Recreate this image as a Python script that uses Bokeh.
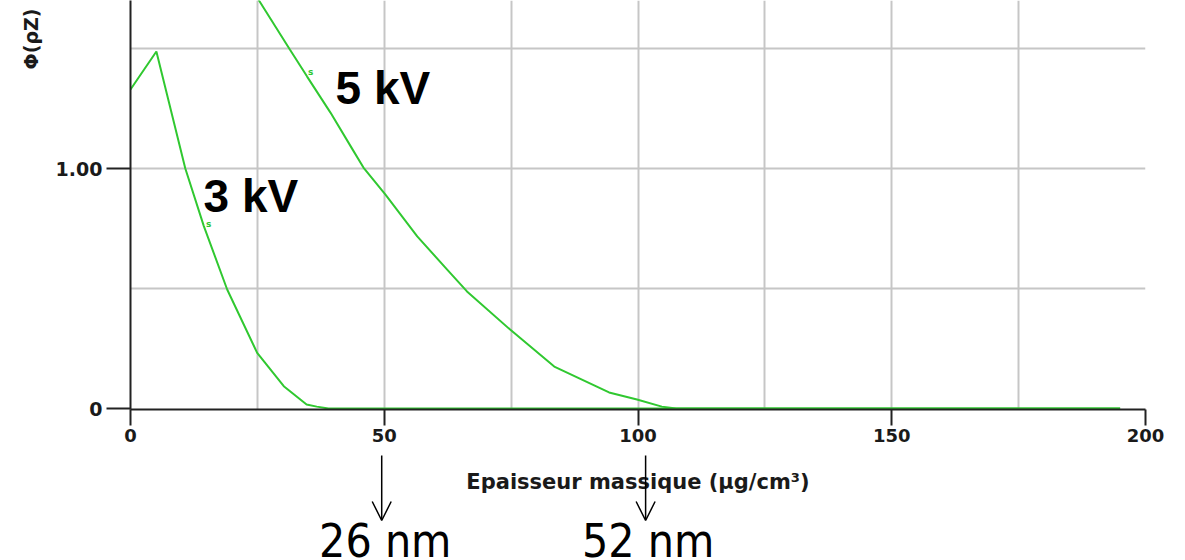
from bokeh.plotting import figure
from bokeh.layouts import column
from bokeh.models import (Range1d, FixedTicker, Label, Arrow, OpenHead, Title)
from bokeh.core.properties import value
from bokeh.embed import file_html
from bokeh.resources import INLINE

# ---- data ----
x_3kv = [0, 5.1, 10.8, 14.45, 19.05, 24.96, 30.2, 34.7, 36.7, 39.0, 195]
y_3kv = [1.329, 1.4875, 1.0, 0.76, 0.496, 0.232, 0.093, 0.017, 0.008, 0.0, 0.0]

x_5kv = [24.5, 25.2, 31.4, 34.8, 39.4, 43.6, 45.9, 50.2, 56.5, 62.4, 66.3, 74.8,
         83.5, 94.3, 99.8, 104.7, 107.5, 195]
y_5kv = [1.73, 1.704, 1.496, 1.383, 1.233, 1.085, 1.004, 0.892, 0.717, 0.579, 0.488,
         0.329, 0.175, 0.067, 0.0375, 0.008, 0.0, 0.0]

x_ticks = [0, 50, 100, 150, 200]
y_ticks = [0, 1]
y_tick_labels = {0: "0", 1: "1.00"}
x_grid = [25, 50, 75, 100, 125, 150, 175]
y_grid = [0.5, 1.0, 1.5]

curve_names = ["3 kV", "5 kV"]
curve_label_pos = [(14.4, 0.8835), (40.4, 1.3375)]
curve_marker_pos = [(15.4, 0.767), (35.5, 1.404)]

x_title = "Epaisseur massique (µg/cm³)"
y_title = "Φ(ρZ)"
depth_labels = ["26 nm", "52 nm"]
depth_arrow_x = [49.5, 101.5]
depth_label_x = [50.2, 102.0]

GREEN = "#30c830"
FONT = "Liberation Sans"
NARROW = "'Liberation Sans Narrow', 'Arial Narrow', 'DejaVu Sans Condensed', 'Liberation Sans'"
INK = "#1a1a1a"

x_range = Range1d(0, 200)

# ---------------- main chart ----------------
p = figure(width=1185, height=452, output_backend="svg", toolbar_location=None,
           x_range=x_range, y_range=Range1d(-0.004, 1.70),
           min_border_left=130, min_border_right=40, min_border_top=0,
           min_border_bottom=43)
p.outline_line_color = None

p.xgrid.ticker = FixedTicker(ticks=x_grid)
p.ygrid.ticker = FixedTicker(ticks=y_grid)
for g in (p.xgrid, p.ygrid):
    g.grid_line_color = "#c6c6c6"
    g.grid_line_width = 2

xa = p.xaxis[0]
xa.ticker = FixedTicker(ticks=x_ticks)
xa.axis_line_color = "#222222"
xa.axis_line_width = 2
xa.major_tick_line_color = "#222222"
xa.major_tick_line_width = 2
xa.major_tick_out = 16
xa.major_tick_in = 0
xa.minor_tick_line_color = None
xa.major_label_text_font = "DejaVu Sans"
xa.major_label_text_font_style = "bold"
xa.major_label_text_font_size = "18px"
xa.major_label_text_color = INK
xa.major_label_standoff = 3

ya = p.yaxis[0]
ya.ticker = FixedTicker(ticks=y_ticks)
ya.major_label_overrides = y_tick_labels
ya.axis_line_color = "#222222"
ya.axis_line_width = 2
ya.major_tick_line_color = "#222222"
ya.major_tick_line_width = 2
ya.major_tick_out = 24
ya.major_tick_in = 0
ya.minor_tick_line_color = None
ya.major_label_text_font = "DejaVu Sans"
ya.major_label_text_font_style = "bold"
ya.major_label_text_font_size = "19px"
ya.major_label_text_color = INK
ya.major_label_standoff = 4

# y-axis title at the top of the left side
p.add_layout(Title(text=y_title, align="right", text_font="DejaVu Sans",
                   text_font_style="bold", text_font_size="19px",
                   text_color=INK, offset=8, standoff=21), "left")

p.line(x_3kv, y_3kv, line_color=GREEN, line_width=2)
p.line(x_5kv, y_5kv, line_color=GREEN, line_width=2)

p.text(x=[m[0] for m in curve_marker_pos], y=[m[1] for m in curve_marker_pos],
       text=["s", "s"], text_color=GREEN, text_font=value("DejaVu Sans"),
       text_font_size="9px", text_font_style="bold",
       text_align="center", text_baseline="middle")

for name, (lx, ly) in zip(curve_names, curve_label_pos):
    p.add_layout(Label(x=lx, y=ly, text=name, text_font=FONT, text_font_style="bold",
                       text_font_size="46px", text_color="black",
                       text_align="left", text_baseline="alphabetic"))

# ---------------- strip below: axis title, arrows, depths ----------------
b = figure(width=1185, height=108, output_backend="svg", toolbar_location=None,
           x_range=x_range, y_range=Range1d(0, 108),
           min_border_left=130, min_border_right=40, min_border_top=0,
           min_border_bottom=0, x_axis_type=None, y_axis_type=None)
b.outline_line_color = None
b.grid.visible = False

b.add_layout(Label(x=100, y=79, text=x_title, text_font="DejaVu Sans",
                   text_font_style="bold", text_font_size="21px", text_color=INK,
                   text_align="center", text_baseline="middle"))

for lab, ax, lx in zip(depth_labels, depth_arrow_x, depth_label_x):
    b.add_layout(Arrow(x_start=ax, y_start=105, x_end=ax, y_end=40,
                       line_color="black", line_width=1.5,
                       end=OpenHead(size=19, line_color="black", line_width=1.5)))
    b.add_layout(Label(x=lx, y=19.5, text=lab, text_font=NARROW,
                       text_font_size="46px", text_color="black",
                       text_align="center", text_baseline="alphabetic"))

layout = column(p, b, spacing=0)
open("out.html", "w").write(file_html(layout, INLINE))
